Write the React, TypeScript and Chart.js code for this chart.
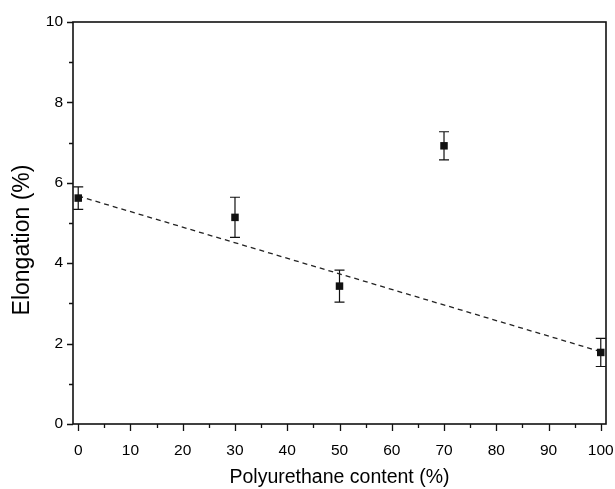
import React, { useEffect, useRef } from "react";
import { Chart, registerables } from "chart.js";
Chart.register(...registerables);

const contentX = [0, 30, 50, 70, 100];
const elongation = [5.62, 5.14, 3.43, 6.92, 1.78];
const errorBars = [0.28, 0.5, 0.4, 0.35, 0.35];
const fitX = [0, 100];
const fitY = [5.67, 1.8];
const xTicks = [0, 10, 20, 30, 40, 50, 60, 70, 80, 90, 100];
const xMinorTicks = [5, 15, 25, 35, 45, 55, 65, 75, 85, 95];
const yTicks = [0, 2, 4, 6, 8, 10];
const yMinorTicks = [1, 3, 5, 7, 9];
const xTitle = "Polyurethane content (%)";
const yTitle = "Elongation (%)";

const FONT = "'Liberation Sans', Arial, sans-serif";

const errorBarPlugin = {
  id: "errorBars",
  beforeDatasetsDraw(chart: any) {
    const { ctx, scales } = chart;
    const x = scales.x;
    const y = scales.y;
    ctx.save();
    ctx.strokeStyle = "#111";
    ctx.lineWidth = 1.2;
    contentX.forEach((v, i) => {
      const px = x.getPixelForValue(v);
      const top = y.getPixelForValue(elongation[i] + errorBars[i]);
      const bot = y.getPixelForValue(elongation[i] - errorBars[i]);
      ctx.beginPath();
      ctx.moveTo(px, top);
      ctx.lineTo(px, bot);
      ctx.moveTo(px - 5, top);
      ctx.lineTo(px + 5, top);
      ctx.moveTo(px - 5, bot);
      ctx.lineTo(px + 5, bot);
      ctx.stroke();
    });
    ctx.restore();
  },
};

const framePlugin = {
  id: "frame",
  afterDraw(chart: any) {
    const { ctx, chartArea: a, scales } = chart;
    const x = scales.x;
    const y = scales.y;
    ctx.save();
    ctx.strokeStyle = "#111";
    ctx.lineWidth = 1.6;
    ctx.strokeRect(a.left, a.top, a.right - a.left, a.bottom - a.top);
    ctx.lineWidth = 1.3;
    ctx.beginPath();
    xTicks.forEach((v) => {
      const px = Math.round(x.getPixelForValue(v)) + 0.5;
      ctx.moveTo(px, a.bottom);
      ctx.lineTo(px, a.bottom + 7);
    });
    xMinorTicks.forEach((v) => {
      const px = Math.round(x.getPixelForValue(v)) + 0.5;
      ctx.moveTo(px, a.bottom);
      ctx.lineTo(px, a.bottom + 4);
    });
    yTicks.forEach((v) => {
      const py = Math.round(y.getPixelForValue(v)) + 0.5;
      ctx.moveTo(a.left, py);
      ctx.lineTo(a.left - 6, py);
    });
    yMinorTicks.forEach((v) => {
      const py = Math.round(y.getPixelForValue(v)) + 0.5;
      ctx.moveTo(a.left, py);
      ctx.lineTo(a.left - 4, py);
    });
    ctx.stroke();
    // y-axis title
    ctx.translate(22.5, (a.top + a.bottom) / 2 + 17);
    ctx.rotate(-Math.PI / 2);
    ctx.fillStyle = "#000";
    ctx.font = "23px " + FONT;
    ctx.textAlign = "center";
    ctx.textBaseline = "middle";
    ctx.fillText(yTitle, 0, 0);
    ctx.restore();
  },
};

export default function App() {
  const ref = useRef<HTMLCanvasElement | null>(null);
  useEffect(() => {
    if (!ref.current) return;
    const chart = new Chart(ref.current, {
      type: "scatter",
      data: {
        datasets: [
          {
            label: "Elongation",
            data: contentX.map((v, i) => ({ x: v, y: elongation[i] })),
            pointStyle: "rect",
            pointRadius: 5.3,
            backgroundColor: "#111",
            borderColor: "#111",
            borderWidth: 0,
            showLine: false,
          },
          {
            type: "line",
            label: "Fit",
            data: fitX.map((v, i) => ({ x: v, y: fitY[i] })),
            borderColor: "#222",
            borderWidth: 1.3,
            borderDash: [5, 4],
            pointRadius: 0,
            fill: false,
          } as any,
        ],
      },
      options: {
        animation: false,
        responsive: false,
        layout: { padding: { top: 22, right: 9, left: 0, bottom: 0 } },
        plugins: { legend: { display: false }, tooltip: { enabled: false } },
        scales: {
          x: {
            type: "linear",
            min: -1,
            max: 101,
            afterBuildTicks: (s: any) => {
              s.ticks = xTicks.map((v) => ({ value: v }));
            },
            afterFit: (s: any) => {
              s.height = 65;
              s.paddingLeft = 0;
              s.paddingRight = 0;
            },
            grid: { display: false, drawTicks: false },
            border: { display: false },
            ticks: {
              padding: 17,
              color: "#000",
              maxRotation: 0,
              autoSkip: false,
              font: { family: FONT, size: 15.5 },
            },
            title: {
              display: true,
              text: xTitle,
              color: "#000",
              font: { family: FONT, size: 19.5 },
              padding: { top: 0, bottom: 0 },
            },
          },
          y: {
            type: "linear",
            min: 0,
            max: 10,
            afterBuildTicks: (s: any) => {
              s.ticks = yTicks.map((v) => ({ value: v }));
            },
            afterFit: (s: any) => {
              s.width = 73;
              s.paddingTop = 0;
              s.paddingBottom = 0;
            },
            grid: { display: false, drawTicks: false },
            border: { display: false },
            ticks: {
              padding: 10,
              color: "#000",
              autoSkip: false,
              font: { family: FONT, size: 15.5 },
            },
            title: { display: false },
          },
        },
      },
      plugins: [errorBarPlugin, framePlugin],
    });
    return () => chart.destroy();
  }, []);
  return (
    <div style={{ position: "absolute", left: 0, top: 0, width: 615, height: 489, background: "#fff" }}>
      <canvas ref={ref} width={615} height={489} style={{ display: "block" }} />
    </div>
  );
}
